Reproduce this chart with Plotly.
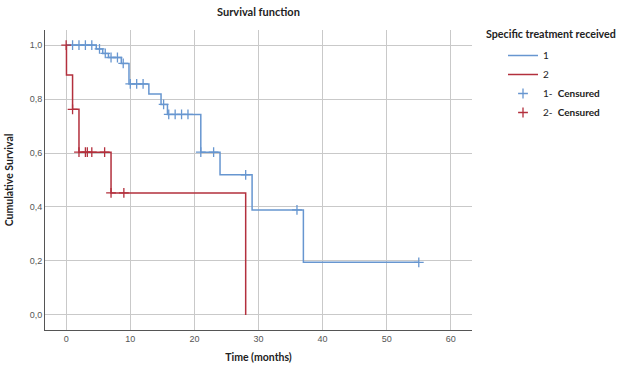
import plotly.graph_objects as go

# Group 1 (blue) Kaplan-Meier step data
g1_time = [0, 4.7, 5.7, 6.6, 8.6, 9.8, 12.9, 14.8, 15.8, 21, 24, 29, 37, 55]
g1_surv = [1.0, 0.986, 0.969, 0.954, 0.932, 0.856, 0.819, 0.780, 0.743, 0.603, 0.519, 0.389, 0.195, 0.195]
g1_cens_time = [1, 2, 3, 4, 5.2, 6.1, 7.0, 8.0, 8.9, 10, 11, 12, 15.2, 16, 17, 18, 19, 21, 23, 28, 36, 55]
g1_cens_surv = [1.0, 1.0, 1.0, 1.0, 0.986, 0.969, 0.954, 0.954, 0.932, 0.856, 0.856, 0.856, 0.780,
                0.743, 0.743, 0.743, 0.743, 0.603, 0.603, 0.519, 0.389, 0.195]

# Group 2 (red)
g2_time = [0, 0.05, 1, 2, 7, 28]
g2_surv = [1.0, 0.889, 0.762, 0.603, 0.452, 0.0]
g2_cens_time = [0, 1, 2, 3, 3.3, 4, 6, 7, 9]
g2_cens_surv = [1.0, 0.762, 0.603, 0.603, 0.603, 0.603, 0.603, 0.452, 0.452]

x_ticks = [0, 10, 20, 30, 40, 50, 60]
y_ticks = [0.0, 0.2, 0.4, 0.6, 0.8, 1.0]
y_tick_labels = ["0,0", "0,2", "0,4", "0,6", "0,8", "1,0"]

blue = "#6796d0"
red = "#b3303d"
font_main = "Lato, Liberation Sans, sans-serif"

fig = go.Figure()
fig.add_trace(go.Scatter(x=g1_time, y=g1_surv, mode="lines", line=dict(shape="hv", color=blue, width=1.5),
                         name="1"))
fig.add_trace(go.Scatter(x=g2_time, y=g2_surv, mode="lines", line=dict(shape="hv", color=red, width=1.5),
                         name="2"))
fig.add_trace(go.Scatter(x=g1_cens_time, y=g1_cens_surv, mode="markers",
                         marker=dict(symbol="cross-thin", size=7, line=dict(color=blue, width=1.3)),
                         name="1-  <b>Censured</b>"))
fig.add_trace(go.Scatter(x=g2_cens_time, y=g2_cens_surv, mode="markers",
                         marker=dict(symbol="cross-thin", size=7, line=dict(color=red, width=1.3)),
                         name="2-  <b>Censured</b>"))

fig.update_layout(
    width=620, height=375,
    margin=dict(l=45, r=148, t=30, b=45, autoexpand=False),
    paper_bgcolor="white", plot_bgcolor="white",
    font=dict(family=font_main, size=10, color="#222"),
    title=dict(text="<b>Survival function</b>", x=0.5, xref="paper", xanchor="center",
               y=1 - 12 / 375, yref="container", yanchor="middle",
               font=dict(size=11, color="#222")),
    legend=dict(x=(503 - 45) / 427, xanchor="left", y=(330 - 41) / 300, yanchor="top",
                font=dict(size=10, color="#222"), tracegroupgap=0,
                itemwidth=30, bgcolor="rgba(0,0,0,0)"),
    showlegend=True,
    annotations=[dict(text="<b>Specific treatment received</b>", xref="paper", yref="paper",
                      x=(484 - 45) / 427, y=(330 - 33) / 300, xanchor="left", yanchor="middle",
                      showarrow=False, font=dict(size=10.7, color="#222"))],
)
fig.update_xaxes(range=[-3.3, 63.3], tickvals=x_ticks, ticktext=[str(v) for v in x_ticks],
                 showgrid=True, gridcolor="#c9c9c9", gridwidth=1, zeroline=False,
                 showline=True, linecolor="#555", linewidth=1, ticks="",
                 tickfont=dict(family="Liberation Sans, Arial, sans-serif", size=9, color="#555"),
                 title=dict(text="<b>Time (months)</b>", standoff=10, font=dict(size=10.5, color="#222")))
fig.update_yaxes(range=[-0.056, 1.056], tickvals=y_ticks, ticktext=y_tick_labels,
                 showgrid=True, gridcolor="#c9c9c9", gridwidth=1, zeroline=False,
                 showline=True, linecolor="#555", linewidth=1, ticks="",
                 tickfont=dict(family="Liberation Sans, Arial, sans-serif", size=9, color="#555"),
                 title=dict(text="<b>Cumulative Survival</b>", standoff=14, font=dict(size=10.5, color="#222")))

fig.write_html("out.html", config={"displayModeBar": False},
               post_script="document.body.style.margin='0';")
